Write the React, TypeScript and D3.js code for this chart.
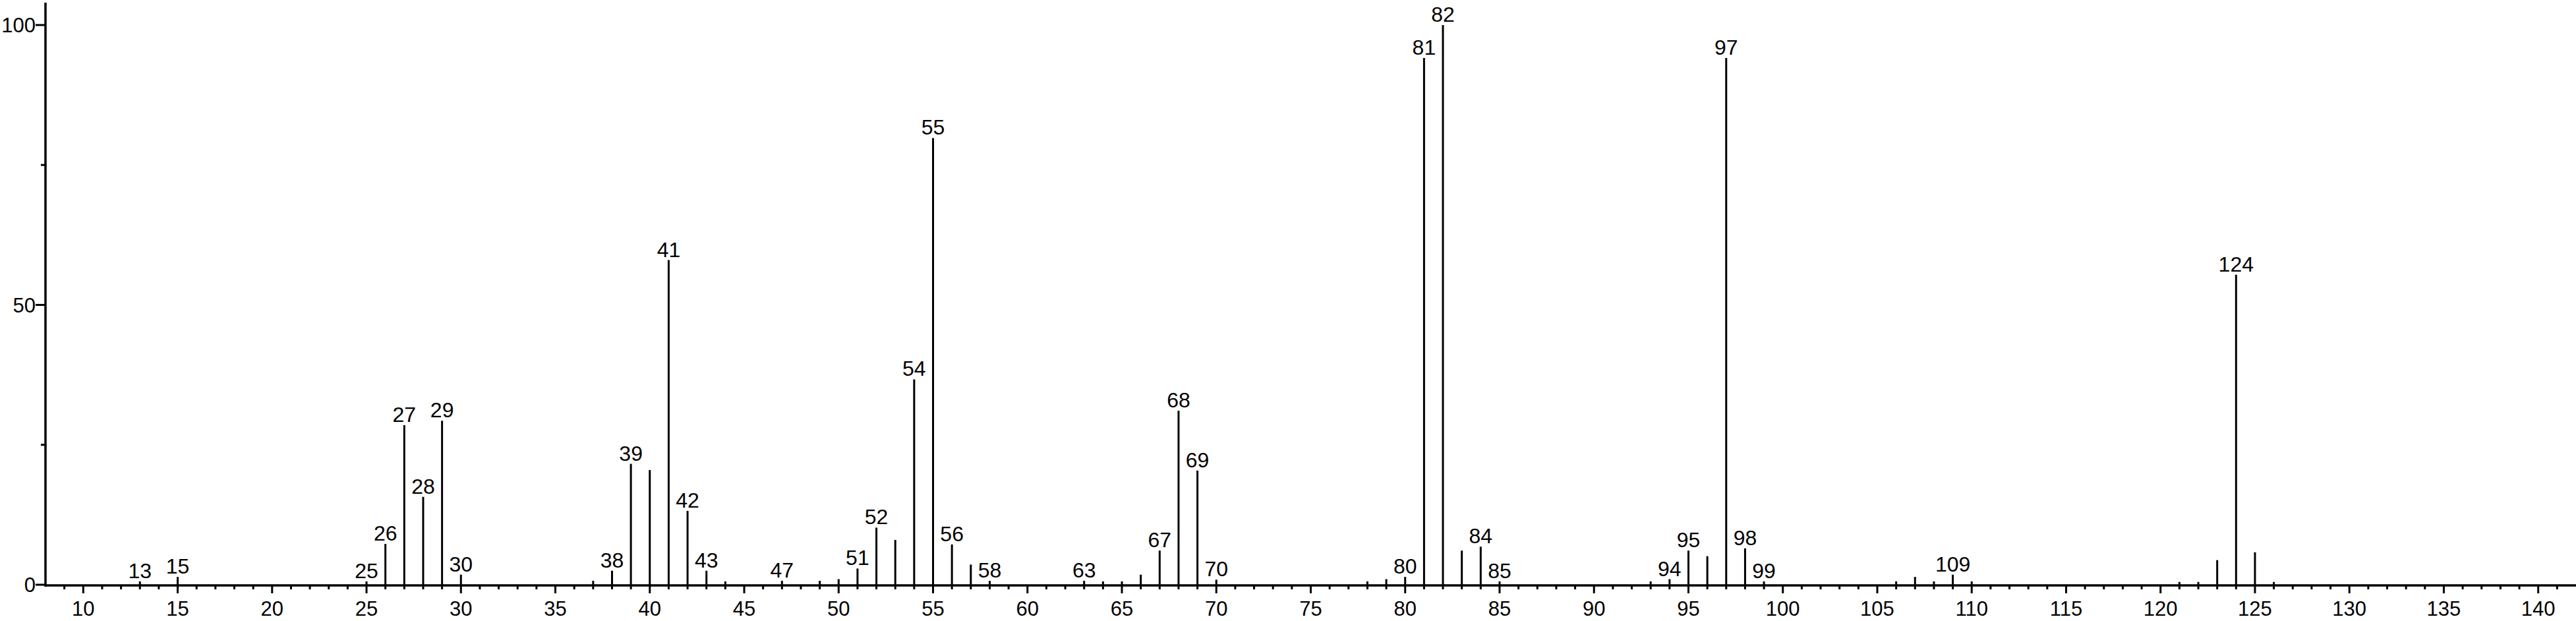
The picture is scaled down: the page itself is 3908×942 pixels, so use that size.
import React from "react";
import * as d3 from "d3";

const masses = [13,15,25,26,27,28,29,30,37,38,39,40,41,42,43,44,47,49,50,51,52,53,54,55,56,57,58,63,64,65,66,67,68,69,70,78,79,80,81,82,83,84,85,93,94,95,96,97,98,99,106,107,108,109,110,121,122,123,124,125,126];
const intensities = [0.6,1.4,0.6,7.3,28.5,15.7,29.3,1.8,0.7,2.5,21.6,20.5,58.0,13.2,2.5,0.6,0.7,0.7,1.0,2.9,10.2,8.0,36.7,79.8,7.2,3.6,0.7,0.7,0.6,0.6,1.8,6.1,31.1,20.4,0.9,0.6,1.0,1.4,94.1,100,6.1,6.8,0.6,0.6,1.0,6.1,5.1,94.1,6.5,0.6,0.6,1.4,0.6,1.8,0.6,0.5,0.5,4.4,55.4,5.8,0.5];
const labeledMasses = [13,15,25,26,27,28,29,30,38,39,41,42,43,47,51,52,54,55,56,58,63,67,68,69,70,80,81,82,84,85,94,95,97,98,99,109,124];
const xMajorTicks = d3.range(10, 141, 5);
const xMinorTicks = d3.range(9, 142, 1).filter((v) => v % 5 !== 0);
const yMajorTicks = [0, 50, 100];
const yMinorTicks = [25, 75];

const W = 3908;
const H = 942;
const FONT = "'Liberation Sans', Arial, Helvetica, sans-serif";

export default function App() {
  const x = d3.scaleLinear().domain([8, 142]).range([69, 3908]);
  const y = d3.scaleLinear().domain([0, 104]).range([887, 4]);
  const x0 = x(8);
  const y0 = y(0);
  const peaks = masses.map((m, i) => ({ m, v: intensities[i] }));

  return (
    <svg
      width={W}
      height={H}
      viewBox={`0 0 ${W} ${H}`}
      style={{ position: "absolute", left: 0, top: 0, background: "#fff" }}
    >
      <rect x={0} y={0} width={W} height={H} fill="#fff" />
      {/* peaks */}
      {peaks.map((p) => (
        <line
          key={"b" + p.m}
          x1={x(p.m)}
          x2={x(p.m)}
          y1={y0}
          y2={y(p.v)}
          stroke="#000"
          strokeWidth={3}
        />
      ))}
      {peaks
        .filter((p) => labeledMasses.includes(p.m))
        .map((p) => (
          <text
            key={"l" + p.m}
            x={x(p.m)}
            y={y(p.v) - 5}
            textAnchor="middle"
            fontFamily={FONT}
            fontSize={32}
            fill="#000"
          >
            {p.m}
          </text>
        ))}
      {/* x axis */}
      <line x1={x0} x2={W} y1={y0 + 1} y2={y0 + 1} stroke="#000" strokeWidth={3.5} />
      {xMajorTicks.map((t) => (
        <g key={"xt" + t}>
          <line x1={x(t)} x2={x(t)} y1={y0} y2={y0 + 13} stroke="#000" strokeWidth={3} />
          <text
            x={x(t)}
            y={934}
            textAnchor="middle"
            fontFamily={FONT}
            fontSize={31}
            fill="#000"
          >
            {t}
          </text>
        </g>
      ))}
      {xMinorTicks.map((t) => (
        <line key={"xm" + t} x1={x(t)} x2={x(t)} y1={y0} y2={y0 + 7} stroke="#000" strokeWidth={3} />
      ))}
      {/* y axis */}
      <line x1={x0} x2={x0} y1={y(104)} y2={y0 + 3} stroke="#000" strokeWidth={3.5} />
      {yMajorTicks.map((t) => (
        <g key={"yt" + t}>
          <line x1={x0 - 15} x2={x0} y1={y(t)} y2={y(t)} stroke="#000" strokeWidth={3} />
          <text
            x={x0 - 15}
            y={y(t)}
            dy="0.36em"
            textAnchor="end"
            fontFamily={FONT}
            fontSize={31}
            fill="#000"
          >
            {t}
          </text>
        </g>
      ))}
      {yMinorTicks.map((t) => (
        <line key={"ym" + t} x1={x0 - 7} x2={x0} y1={y(t)} y2={y(t)} stroke="#000" strokeWidth={3} />
      ))}
    </svg>
  );
}
